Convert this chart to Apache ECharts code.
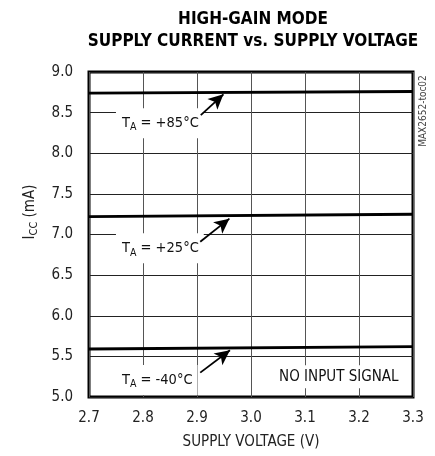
<!DOCTYPE html>
<html><head><meta charset="utf-8">
<script src="https://cdn.jsdelivr.net/npm/echarts@6/dist/echarts.min.js"></script>
<style>html,body{margin:0;padding:0;background:#fff}#c{width:435px;height:456px}</style>
</head><body><div id="c"></div>
<script>
const voltage = [2.7, 3.3];
const icc85 = [8.74, 8.76];
const icc25 = [7.22, 7.25];
const iccM40 = [5.59, 5.62];
const xTicks = ['2.7','2.8','2.9','3.0','3.1','3.2','3.3'];
const yTicks = ['5.0','5.5','6.0','6.5','7.0','7.5','8.0','8.5','9.0'];
const labels = [
  {text: 'T{s|A} = +85°C', at: [2.749, 8.37], arrow: [[2.907, 8.47], [2.949, 8.725]]},
  {text: 'T{s|A} = +25°C', at: [2.749, 6.83], arrow: [[2.906, 6.91], [2.960, 7.195]]},
  {text: 'T{s|A} = -40°C', at: [2.749, 5.21], arrow: [[2.906, 5.30], [2.961, 5.575]]}
];
const note = {text: 'NO INPUT SIGNAL', at: [3.040, 5.25]};

const FONT = "'Liberation Sans Narrow','DejaVu Sans Condensed','Roboto Condensed',sans-serif";
const chart = echarts.init(document.getElementById('c'), null, {renderer: 'canvas'});
function pairs(ys){ return voltage.map((v,i)=>[v, ys[i]]); }
const labelStyle = {
  show: true, position: 'right', distance: 0,
  formatter: p => p.name,
  color: '#111', fontFamily: FONT, fontSize: 14.5,
  backgroundColor: '#fff', padding: [5, 5, 5, 6],
  rich: {s: {fontFamily: FONT, fontSize: 10.5, color: '#111', padding: [9, 0, 0, 0], verticalAlign: 'bottom'}}
};
function mkSeries(ys, lab){
  return {
    type: 'line', data: pairs(ys), symbol: 'none', silent: true, z: 5,
    lineStyle: {color: '#000', width: 3},
    markLine: {
      silent: true, symbol: ['none', 'arrow'], symbolSize: [11, 15], z: 6,
      lineStyle: {color: '#000', width: 1.8, type: 'solid'}, label: {show: false},
      data: [[{coord: lab.arrow[0]}, {coord: lab.arrow[1]}]]
    },
    markPoint: {
      silent: true, symbol: 'rect', symbolSize: 1, itemStyle: {color: 'rgba(0,0,0,0)'}, z: 4,
      label: labelStyle,
      data: [{name: lab.text, coord: lab.at}]
    }
  };
}
const series = [mkSeries(icc85, labels[0]), mkSeries(icc25, labels[1]), mkSeries(iccM40, labels[2])];
series.push({
  type: 'scatter', data: [], silent: true,
  markPoint: {silent: true, symbol: 'rect', symbolSize: 1, itemStyle: {color: 'rgba(0,0,0,0)'}, z: 4,
    label: Object.assign({}, labelStyle, {fontSize: 15, padding: [4, 6, 4, 6]}),
    data: [{name: note.text, coord: note.at}]}
});

chart.setOption({
  animation: false,
  backgroundColor: '#fff',
  title: {
    text: 'HIGH-GAIN MODE\nSUPPLY CURRENT vs. SUPPLY VOLTAGE',
    left: 253, top: 9, padding: 0, textAlign: 'center',
    textStyle: {fontFamily: FONT, fontWeight: 'bold', fontSize: 17, lineHeight: 22, color: '#000'}
  },
  grid: {left: 89, right: 22, top: 72, bottom: 59, show: true, borderColor: '#000', borderWidth: 3, backgroundColor: 'transparent'},
  xAxis: {
    type: 'value', min: 2.7, max: 3.3, interval: 0.1,
    name: 'SUPPLY VOLTAGE (V)', nameLocation: 'middle', nameGap: 38,
    nameTextStyle: {fontFamily: FONT, fontSize: 15, color: '#222'},
    axisLine: {show: false}, axisTick: {show: false},
    axisLabel: {margin: 14, fontFamily: FONT, fontSize: 15, color: '#222',
      formatter: v => xTicks[Math.round((v - 2.7) * 10)]},
    splitLine: {show: true, lineStyle: {color: '#555', width: 1}}
  },
  yAxis: {
    type: 'value', min: 5, max: 9, interval: 0.5,
    axisLine: {show: false}, axisTick: {show: false},
    axisLabel: {margin: 16, fontFamily: FONT, fontSize: 15, color: '#222',
      formatter: v => yTicks[Math.round((v - 5) * 2)]},
    splitLine: {show: true, lineStyle: {color: '#222', width: 1}}
  },
  graphic: [
    {type: 'text', x: 30, y: 212, rotation: Math.PI / 2,
      style: {text: 'I{s|CC} (mA)', fontFamily: FONT, fontSize: 15, fill: '#222', align: 'center', verticalAlign: 'middle',
        rich: {s: {fontFamily: FONT, fontSize: 11, fill: '#222', padding: [8, 0, 0, 0], verticalAlign: 'bottom'}}}},
    {type: 'text', x: 423, y: 111, rotation: Math.PI / 2,
      style: {text: 'MAX2652-toc02', fontFamily: FONT, fontSize: 10, fill: '#444', align: 'center', verticalAlign: 'middle'}}
  ],
  series: series
});
</script></body></html>
